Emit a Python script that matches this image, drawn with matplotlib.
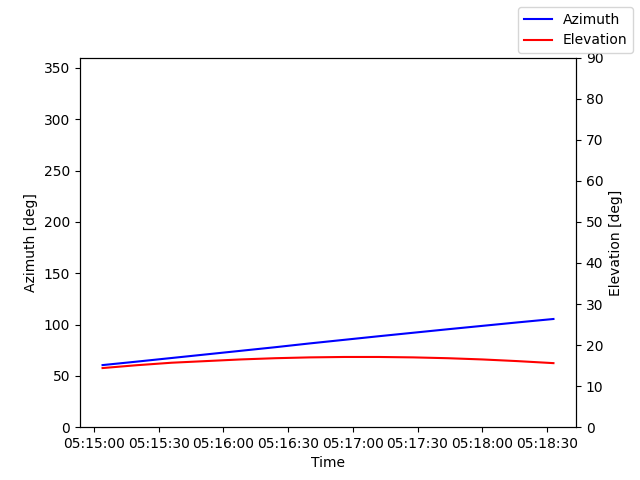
import matplotlib
matplotlib.use("Agg")
import matplotlib.pyplot as plt
import matplotlib.dates as mdates
import pandas as pd

# pass samples
times = ["05:15:04", "05:15:20", "05:15:36", "05:15:52", "05:16:08", "05:16:24", "05:16:40",
         "05:16:56", "05:17:12", "05:17:28", "05:17:44", "05:18:00", "05:18:16", "05:18:33"]
azimuth = [60.5, 63.9, 67.4, 70.9, 74.4, 77.9, 81.6, 85.1, 88.6, 92.0, 95.4, 98.7, 102.0, 105.4]
elevation = [14.4, 15.1, 15.7, 16.1, 16.5, 16.8, 17.0, 17.1, 17.1, 17.0, 16.8, 16.5, 16.1, 15.6]

t = pd.to_datetime(["2024-01-01 " + s for s in times])

fig, ax = plt.subplots(figsize=(6.4, 4.8), dpi=100)
ax.plot(t, azimuth, color="blue", label="Azimuth")
ax.set_ylim(0, 360)
ax.set_ylabel("Azimuth [deg]")
ax.set_xlabel("Time")

ax2 = ax.twinx()
ax2.plot(t, elevation, color="red", label="Elevation")
ax2.set_ylim(0, 90)
ax2.set_ylabel("Elevation [deg]")

ax.xaxis.set_major_locator(mdates.SecondLocator(bysecond=[0, 30]))
ax.xaxis.set_major_formatter(mdates.DateFormatter("%H:%M:%S"))

fig.legend(loc="upper right")
plt.savefig("out.png")
